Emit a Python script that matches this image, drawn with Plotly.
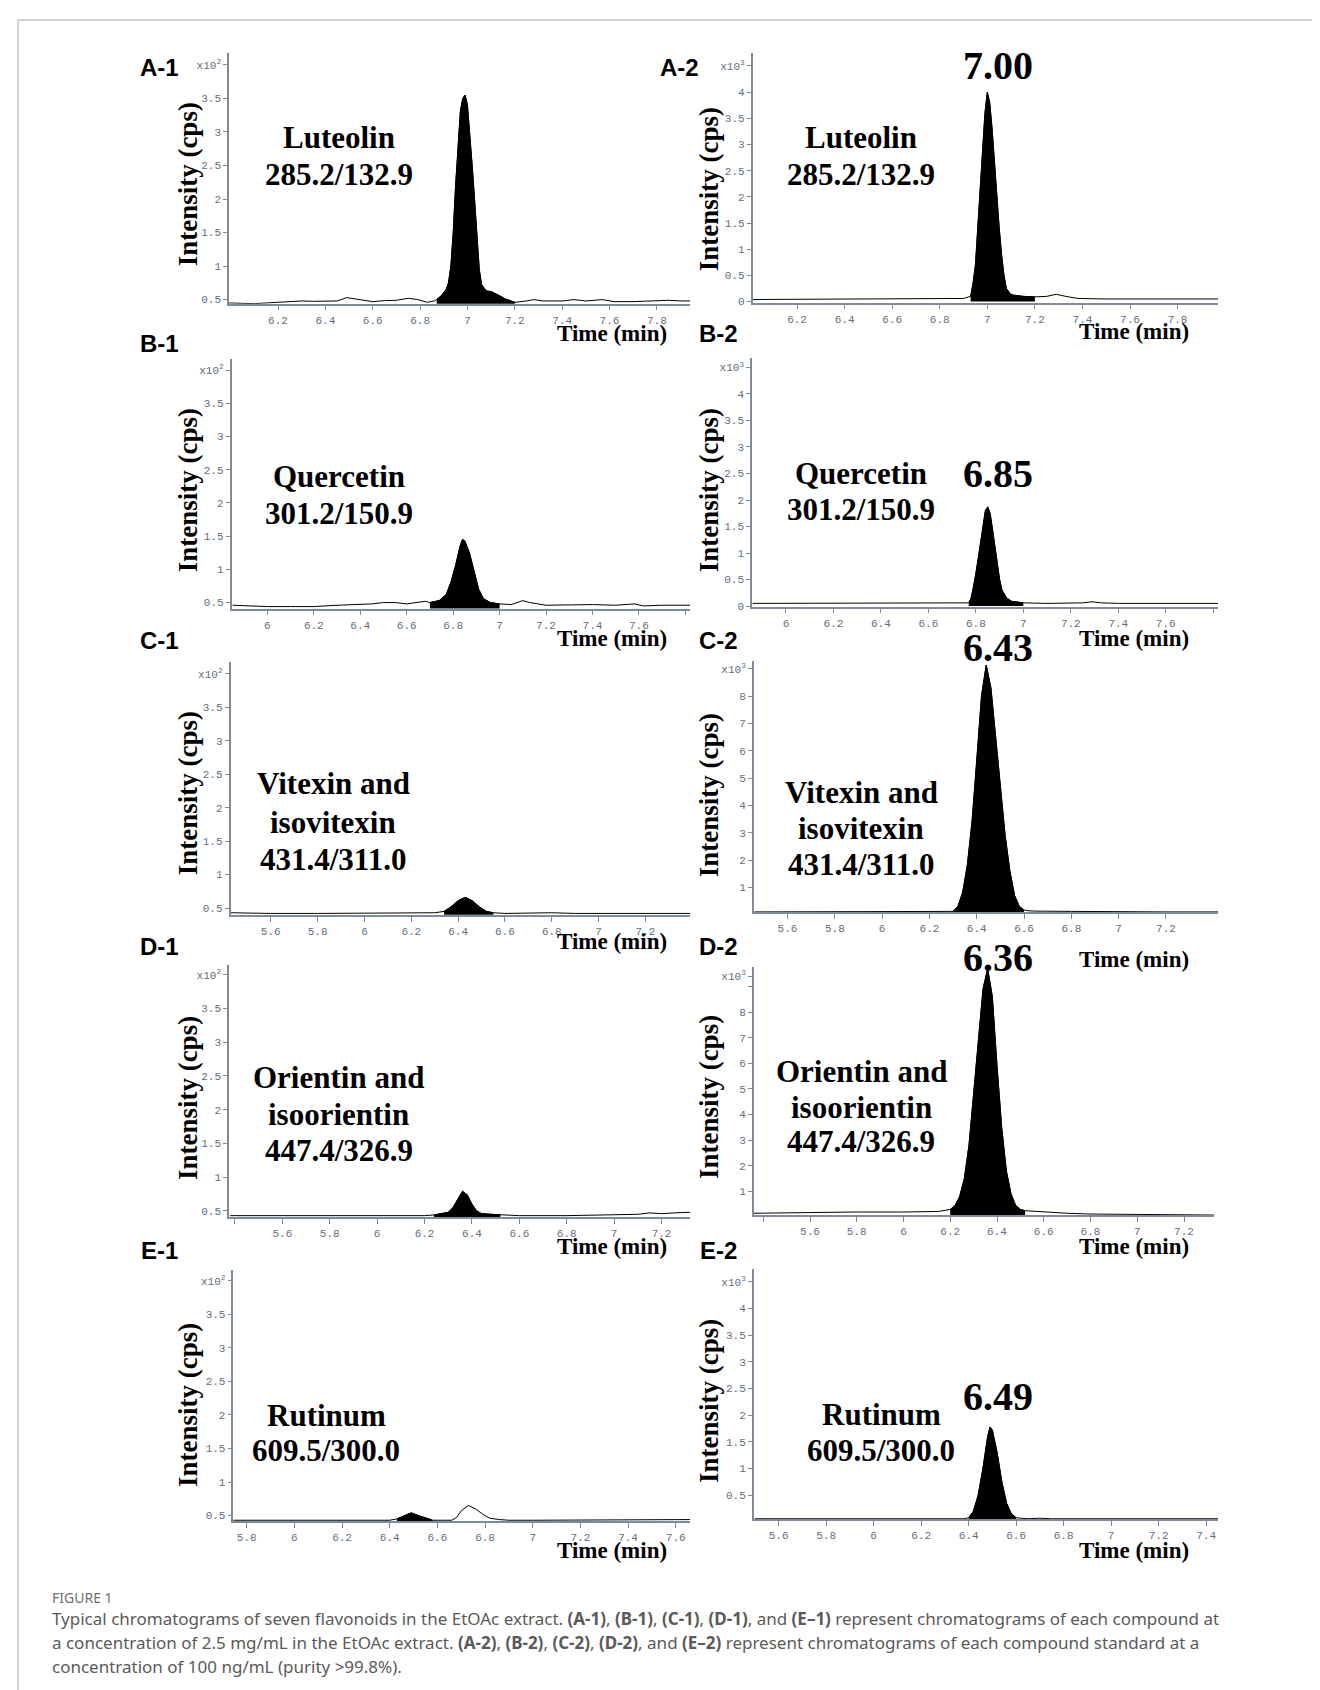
import plotly.graph_objects as go

W, H = 1320, 1690

# ---------------- data (time in min, intensity in axis units) ----------------
a1_time = [5.99, 6.05, 6.1, 6.15, 6.2, 6.25, 6.3, 6.35, 6.4, 6.45, 6.49, 6.53, 6.57, 6.6, 6.65, 6.7, 6.75, 6.79,
           6.83, 6.86, 6.87, 6.89, 6.91, 6.92, 6.93, 6.94, 6.95, 6.96, 6.97, 6.98, 6.99, 7.0, 7.01, 7.02, 7.03,
           7.04, 7.05, 7.06, 7.08, 7.1, 7.12, 7.14, 7.16, 7.18, 7.2, 7.25, 7.28, 7.32, 7.36, 7.4, 7.45, 7.5,
           7.57, 7.62, 7.7, 7.75, 7.8, 7.85, 7.9, 7.94]
a1_int = [0.45, 0.445, 0.44, 0.45, 0.46, 0.475, 0.48, 0.475, 0.48, 0.48, 0.53, 0.51, 0.48, 0.47, 0.485, 0.49, 0.52, 0.5,
          0.46, 0.48, 0.5, 0.56, 0.65, 0.75, 1.0, 1.5, 2.2, 2.8, 3.3, 3.5, 3.55, 3.4, 3.0, 2.5, 2.0,
          1.4, 0.95, 0.72, 0.63, 0.62, 0.59, 0.55, 0.51, 0.48, 0.46, 0.48, 0.5, 0.48, 0.48, 0.48, 0.5, 0.48,
          0.5, 0.47, 0.47, 0.48, 0.48, 0.49, 0.48, 0.48]

a2_time = [6.01, 6.2, 6.4, 6.6, 6.8, 6.9, 6.93, 6.94, 6.95, 6.96, 6.97, 6.98, 6.99, 7.0, 7.01, 7.02, 7.03, 7.04, 7.05,
           7.06, 7.07, 7.08, 7.1, 7.15, 7.2, 7.25, 7.29, 7.33, 7.38, 7.5, 7.7, 7.97]
a2_int = [0.04, 0.045, 0.05, 0.05, 0.05, 0.06, 0.1, 0.35, 0.7, 1.4, 2.1, 2.9, 3.6, 4.0, 3.8, 3.3, 2.6, 2.0, 1.4,
          0.9, 0.5, 0.25, 0.13, 0.1, 0.09, 0.1, 0.14, 0.1, 0.06, 0.05, 0.05, 0.05]

b1_time = [5.85, 5.9, 6.0, 6.1, 6.2, 6.3, 6.4, 6.45, 6.5, 6.55, 6.6, 6.65, 6.68, 6.7, 6.74, 6.77, 6.79, 6.81, 6.83,
           6.84, 6.85, 6.87, 6.89, 6.91, 6.93, 6.96, 7.0, 7.05, 7.1, 7.13, 7.2, 7.3, 7.4, 7.5, 7.58, 7.62, 7.7, 7.82]
b1_int = [0.46, 0.45, 0.44, 0.44, 0.44, 0.46, 0.47, 0.48, 0.5, 0.5, 0.48, 0.5, 0.52, 0.5, 0.53, 0.62, 0.8, 1.05, 1.35,
          1.45, 1.43, 1.25, 0.95, 0.7, 0.56, 0.5, 0.48, 0.47, 0.53, 0.5, 0.46, 0.47, 0.47, 0.46, 0.48, 0.45, 0.46, 0.46]

b2_time = [5.86, 6.0, 6.2, 6.4, 6.6, 6.75, 6.77, 6.78, 6.79, 6.8, 6.81, 6.82, 6.83, 6.84, 6.85, 6.86, 6.87, 6.88,
           6.89, 6.9, 6.91, 6.93, 6.95, 6.98, 7.0, 7.1, 7.25, 7.29, 7.33, 7.4, 7.6, 7.82]
b2_int = [0.05, 0.05, 0.05, 0.055, 0.05, 0.05, 0.06, 0.15, 0.35, 0.6, 0.9, 1.2, 1.55, 1.8, 1.87, 1.75, 1.45, 1.1,
          0.8, 0.5, 0.3, 0.15, 0.09, 0.07, 0.06, 0.05, 0.06, 0.08, 0.06, 0.05, 0.05, 0.05]

c1_time = [5.43, 5.6, 5.8, 6.0, 6.2, 6.3, 6.34, 6.37, 6.4, 6.43, 6.46, 6.49, 6.52, 6.55, 6.6, 6.7, 6.8, 6.9, 7.0,
           7.1, 7.2, 7.39]
c1_int = [0.43, 0.42, 0.42, 0.42, 0.43, 0.43, 0.45, 0.52, 0.61, 0.66, 0.61, 0.52, 0.45, 0.43, 0.42, 0.43, 0.43,
          0.42, 0.42, 0.43, 0.42, 0.42]

c2_time = [5.46, 5.6, 5.8, 6.0, 6.2, 6.28, 6.3, 6.32, 6.34, 6.36, 6.38, 6.4, 6.42, 6.44, 6.46, 6.48, 6.5, 6.52,
           6.54, 6.56, 6.58, 6.6, 6.62, 6.65, 6.8, 7.0, 7.2, 7.42]
c2_int = [0.1, 0.1, 0.1, 0.1, 0.1, 0.11, 0.12, 0.3, 0.8, 1.8, 3.4, 5.6, 8.0, 9.14, 8.3, 6.5, 4.6, 2.9,
          1.6, 0.7, 0.3, 0.17, 0.14, 0.13, 0.12, 0.1, 0.1, 0.1]

d1_time = [5.38, 5.5, 5.6, 5.8, 6.0, 6.2, 6.24, 6.3, 6.32, 6.34, 6.36, 6.38, 6.4, 6.42, 6.44, 6.48, 6.52, 6.6,
           6.8, 7.0, 7.1, 7.15, 7.2, 7.25, 7.32]
d1_int = [0.43, 0.43, 0.42, 0.42, 0.43, 0.43, 0.44, 0.48, 0.55, 0.68, 0.79, 0.74, 0.6, 0.5, 0.46, 0.45, 0.44, 0.43,
          0.43, 0.44, 0.45, 0.47, 0.46, 0.47, 0.48]

d2_time = [5.36, 5.6, 5.8, 6.0, 6.1, 6.15, 6.2, 6.22, 6.24, 6.26, 6.28, 6.3, 6.32, 6.34, 6.36, 6.38, 6.4, 6.42,
           6.44, 6.46, 6.48, 6.5, 6.52, 6.6, 6.7, 6.8, 7.0, 7.33]
d2_int = [0.15, 0.18, 0.2, 0.2, 0.2, 0.22, 0.3, 0.45, 0.8, 1.5, 2.8, 4.9, 7.0, 8.9, 9.7, 8.6, 5.9, 3.5,
          1.8, 0.9, 0.45, 0.3, 0.25, 0.2, 0.15, 0.12, 0.1, 0.08]

e1_time = [5.74, 5.8, 6.0, 6.2, 6.4, 6.43, 6.46, 6.49, 6.52, 6.55, 6.58, 6.62, 6.66, 6.68, 6.7, 6.73, 6.76, 6.79,
           6.82, 6.86, 6.9, 7.0, 7.1, 7.2, 7.3, 7.5, 7.6, 7.66]
e1_int = [0.43, 0.43, 0.43, 0.43, 0.43, 0.45, 0.5, 0.54, 0.5, 0.46, 0.43, 0.43, 0.43, 0.47, 0.57, 0.65, 0.6, 0.52,
          0.46, 0.44, 0.43, 0.43, 0.43, 0.44, 0.43, 0.43, 0.44, 0.44]

e2_time = [5.5, 5.8, 6.0, 6.2, 6.38, 6.4, 6.42, 6.44, 6.46, 6.48, 6.49, 6.5, 6.52, 6.54, 6.56, 6.58, 6.6, 6.65,
           6.7, 6.75, 7.0, 7.45]
e2_int = [0.06, 0.06, 0.06, 0.06, 0.06, 0.08, 0.2, 0.5, 1.0, 1.6, 1.78, 1.72, 1.3, 0.75, 0.35, 0.15, 0.08, 0.06,
          0.07, 0.06, 0.06, 0.06]

# integration (filled) windows, min
fill_windows = {"A-1": (6.87, 7.2), "A-2": (6.93, 7.2), "B-1": (6.69, 7.0), "B-2": (6.77, 7.0),
                "C-1": (6.33, 6.55), "C-2": (6.3, 6.6), "D-1": (6.24, 6.52), "D-2": (6.2, 6.52),
                "E-1": (6.43, 6.58), "E-2": (6.4, 6.6)}

# tick labels
ticks_x_A = [6.2, 6.4, 6.6, 6.8, 7.0, 7.2, 7.4, 7.6, 7.8]
ticks_x_A_text = ["6.2", "6.4", "6.6", "6.8", "7", "7.2", "7.4", "7.6", "7.8"]
ticks_x_B = [6.0, 6.2, 6.4, 6.6, 6.8, 7.0, 7.2, 7.4, 7.6]
ticks_x_B_text = ["6", "6.2", "6.4", "6.6", "6.8", "7", "7.2", "7.4", "7.6"]
ticks_x_B_minor = [7.8]
ticks_x_C = [5.6, 5.8, 6.0, 6.2, 6.4, 6.6, 6.8, 7.0, 7.2]
ticks_x_C_text = ["5.6", "5.8", "6", "6.2", "6.4", "6.6", "6.8", "7", "7.2"]
ticks_x_D_minor = [5.4]
ticks_x_E1 = [5.8, 6.0, 6.2, 6.4, 6.6, 6.8, 7.0, 7.2, 7.4, 7.6]
ticks_x_E1_text = ["5.8", "6", "6.2", "6.4", "6.6", "6.8", "7", "7.2", "7.4", "7.6"]
ticks_x_E2 = [5.6, 5.8, 6.0, 6.2, 6.4, 6.6, 6.8, 7.0, 7.2, 7.4]
ticks_x_E2_text = ["5.6", "5.8", "6", "6.2", "6.4", "6.6", "6.8", "7", "7.2", "7.4"]

ticks_y_e2 = [0.5, 1, 1.5, 2, 2.5, 3, 3.5, 4]
ticks_y_e2_text = ["0.5", "1", "1.5", "2", "2.5", "3", "3.5", "x10<sup>2</sup>"]
ticks_y_e3 = [0, 0.5, 1, 1.5, 2, 2.5, 3, 3.5, 4, 4.5]
ticks_y_e3_text = ["0", "0.5", "1", "1.5", "2", "2.5", "3", "3.5", "4", "x10<sup>3</sup>"]
ticks_y_e3b = [0.5, 1, 1.5, 2, 2.5, 3, 3.5, 4, 4.5]
ticks_y_e3b_text = ["0.5", "1", "1.5", "2", "2.5", "3", "3.5", "4", "x10<sup>3</sup>"]
ticks_y_c2 = [1, 2, 3, 4, 5, 6, 7, 8, 9]
ticks_y_c2_text = ["1", "2", "3", "4", "5", "6", "7", "8", "x10<sup>3</sup>"]
ticks_y_d2 = [1, 2, 3, 4, 5, 6, 7, 8, 9.4]
ticks_y_d2_text = ["1", "2", "3", "4", "5", "6", "7", "8", "x10<sup>3</sup>"]
ticks_y_d2_minor = [9]

compound_labels = {
    "A-1": ["Luteolin", "285.2/132.9"], "A-2": ["Luteolin", "285.2/132.9"],
    "B-1": ["Quercetin", "301.2/150.9"], "B-2": ["Quercetin", "301.2/150.9"],
    "C-1": ["Vitexin and", "isovitexin", "431.4/311.0"], "C-2": ["Vitexin and", "isovitexin", "431.4/311.0"],
    "D-1": ["Orientin and", "isoorientin", "447.4/326.9"], "D-2": ["Orientin and", "isoorientin", "447.4/326.9"],
    "E-1": ["Rutinum", "609.5/300.0"], "E-2": ["Rutinum", "609.5/300.0"],
}
retention_labels = {"A-2": "7.00", "B-2": "6.85", "C-2": "6.43", "D-2": "6.36", "E-2": "6.49"}

# ---------------- layout geometry (pixels) ----------------
panels = [
    dict(key="A-1", t=a1_time, i=a1_int, box=(221, 682, 45, 296.7), xr=[5.993, 7.94], yr=[0.44, 4.18],
         xt=(ticks_x_A, ticks_x_A_text), yt=(ticks_y_e2, ticks_y_e2_text), xm=None, ym=None,
         lab=(151, 60), ytitle=(180, 177), ttl=(604, 327), comp=(331, [130, 167]), rt=None),
    dict(key="A-2", t=a2_time, i=a2_int, box=(744.6, 1210, 45, 295.7), xr=[6.013, 7.97], yr=[-0.02, 4.75],
         xt=(ticks_x_A, ticks_x_A_text), yt=(ticks_y_e3, ticks_y_e3_text), xm=None, ym=None,
         lab=(671, 60), ytitle=(701, 182), ttl=(1126, 325), comp=(853, [130, 167]), rt=(990, 58)),
    dict(key="B-1", t=b1_time, i=b1_int, box=(223.6, 682, 352.7, 602.7), xr=[5.846, 7.82], yr=[0.41, 4.16],
         xt=(ticks_x_B, ticks_x_B_text), yt=(ticks_y_e2, ticks_y_e2_text), xm=ticks_x_B_minor, ym=None,
         lab=(151, 336.7), ytitle=(180, 484), ttl=(604, 633), comp=(331, [470, 507]), rt=None),
    dict(key="B-2", t=b2_time, i=b2_int, box=(744, 1210, 351.7, 600.7), xr=[5.857, 7.82], yr=[-0.01, 4.67],
         xt=(ticks_x_B, ticks_x_B_text), yt=(ticks_y_e3, ticks_y_e3_text), xm=ticks_x_B_minor, ym=None,
         lab=(710, 327), ytitle=(701, 484), ttl=(1126, 633), comp=(853, [467, 503]), rt=(990, 467)),
    dict(key="C-1", t=c1_time, i=c1_int, box=(222.5, 682, 656.7, 910), xr=[5.428, 7.39], yr=[0.40, 4.17],
         xt=(ticks_x_C, ticks_x_C_text), yt=(ticks_y_e2, ticks_y_e2_text), xm=None, ym=None,
         lab=(151, 635), ytitle=(180, 788), ttl=(604, 937), comp=(325, [778, 817, 855]), rt=None),
    dict(key="C-2", t=c2_time, i=c2_int, box=(745.7, 1210, 655, 907.7), xr=[5.457, 7.42], yr=[0.08, 9.3],
         xt=(ticks_x_C, ticks_x_C_text), yt=(ticks_y_c2, ticks_y_c2_text), xm=None, ym=None,
         lab=(710, 635), ytitle=(701, 790), ttl=(1126, 955), comp=(853, [787, 823, 860]), rt=(990, 642)),
    dict(key="D-1", t=d1_time, i=d1_int, box=(221, 682, 960, 1213.3), xr=[5.375, 7.32], yr=[0.41, 4.15],
         xt=(ticks_x_C, ticks_x_C_text), yt=(ticks_y_e2, ticks_y_e2_text), xm=ticks_x_D_minor, ym=None,
         lab=(151, 941.7), ytitle=(180, 1094), ttl=(604, 1243), comp=(331, [1073, 1110, 1147]), rt=None),
    dict(key="D-2", t=d2_time, i=d2_int, box=(745.7, 1206.4, 962.7, 1211.7), xr=[5.359, 7.33], yr=[0.067, 9.75],
         xt=(ticks_x_C, ticks_x_C_text), yt=(ticks_y_d2, ticks_y_d2_text), xm=ticks_x_D_minor,
         ym=ticks_y_d2_minor,
         lab=(710, 941.7), ytitle=(701, 1093), ttl=(1126, 1243), comp=(853, [1067, 1103, 1138]), rt=(990, 953)),
    dict(key="E-1", t=e1_time, i=e1_int, box=(225.4, 682, 1266.7, 1518.3), xr=[5.744, 7.66], yr=[0.42, 4.16],
         xt=(ticks_x_E1, ticks_x_E1_text), yt=(ticks_y_e2, ticks_y_e2_text), xm=None, ym=None,
         lab=(151, 1246.7), ytitle=(180, 1402), ttl=(604, 1548), comp=(318, [1413, 1448]), rt=None),
    dict(key="E-2", t=e2_time, i=e2_int, box=(745.7, 1210, 1265, 1516.7), xr=[5.495, 7.45], yr=[0.05, 4.75],
         xt=(ticks_x_E2, ticks_x_E2_text), yt=(ticks_y_e3b, ticks_y_e3b_text), xm=None, ym=None,
         lab=(710, 1246.7), ytitle=(701, 1398), ttl=(1126, 1548), comp=(873, [1412, 1448]), rt=(990, 1393)),
]


def px(x):
    return x / W


def py(y):
    return 1 - y / H


AXIS_COLOR = "#7f8b97"
TICK_FONT = dict(family="Liberation Mono, DejaVu Sans Mono, monospace", size=11, color="#5f6e7e")
SERIF = "Liberation Serif, Times New Roman, serif"

fig = go.Figure()
annotations = []
layout = {}

for n, p in enumerate(panels, start=1):
    xa = "x" if n == 1 else f"x{n}"
    ya = "y" if n == 1 else f"y{n}"
    x0, x1, ytop, ybot = p["box"]
    # full trace
    fig.add_trace(go.Scatter(x=p["t"], y=p["i"], mode="lines", line=dict(color="black", width=1),
                             xaxis=xa, yaxis=ya, showlegend=False, hoverinfo="skip"))
    # filled integration area
    lo, hi = fill_windows[p["key"]]
    ft = [t for t in p["t"] if lo <= t <= hi]
    fi = [v for t, v in zip(p["t"], p["i"]) if lo <= t <= hi]
    fig.add_trace(go.Scatter(x=ft, y=fi, mode="lines", fill="tozeroy", fillcolor="black",
                             line=dict(color="black", width=1), xaxis=xa, yaxis=ya,
                             showlegend=False, hoverinfo="skip"))
    xkey = "xaxis" if n == 1 else f"xaxis{n}"
    ykey = "yaxis" if n == 1 else f"yaxis{n}"
    xax = dict(domain=[px(x0), px(x1)], range=p["xr"], anchor=ya, showline=True,
               linecolor=AXIS_COLOR, linewidth=1.5, ticks="outside", ticklen=5, tickwidth=1,
               tickcolor=AXIS_COLOR, tickvals=p["xt"][0], ticktext=p["xt"][1], tickfont=TICK_FONT,
               showgrid=False, zeroline=False, fixedrange=True)
    if p["xm"]:
        xax["minor"] = dict(tickvals=p["xm"], ticks="outside", ticklen=5, tickwidth=1, tickcolor=AXIS_COLOR,
                            showgrid=False)
    yax = dict(domain=[py(ybot), py(ytop)], range=p["yr"], anchor=xa, showline=True,
               linecolor=AXIS_COLOR, linewidth=1.5, ticks="outside", ticklen=4, tickwidth=1,
               tickcolor=AXIS_COLOR, tickvals=p["yt"][0], ticktext=p["yt"][1], tickfont=TICK_FONT,
               showgrid=False, zeroline=False, fixedrange=True)
    if p["ym"]:
        yax["minor"] = dict(tickvals=p["ym"], ticks="outside", ticklen=4, tickwidth=1, tickcolor=AXIS_COLOR,
                            showgrid=False)
    layout[xkey] = xax
    layout[ykey] = yax

    # panel letter
    annotations.append(dict(x=px(p["lab"][0]), y=py(p["lab"][1]), xref="paper", yref="paper",
                            text=f"<b>{p['key']}</b>", showarrow=False, xanchor="center", yanchor="middle",
                            font=dict(family="Liberation Sans, Arial, sans-serif", size=24, color="black")))
    # y title
    annotations.append(dict(x=px(p["ytitle"][0]), y=py(p["ytitle"][1]), xref="paper", yref="paper",
                            text="<b>Intensity (cps)</b>", showarrow=False, textangle=-90,
                            xanchor="center", yanchor="middle",
                            font=dict(family=SERIF, size=27, color="black")))
    # x title
    annotations.append(dict(x=px(p["ttl"][0]), y=py(p["ttl"][1]), xref="paper", yref="paper",
                            text="<b>Time (min)</b>", showarrow=False, xanchor="center", yanchor="middle",
                            font=dict(family=SERIF, size=23, color="black")))
    # compound text
    cx, cys = p["comp"]
    for line, cy in zip(compound_labels[p["key"]], cys):
        annotations.append(dict(x=px(cx), y=py(cy), xref="paper", yref="paper", text=f"<b>{line}</b>",
                                showarrow=False, xanchor="center", yanchor="middle",
                                font=dict(family=SERIF, size=31, color="black")))
    # retention time
    if p["rt"] is not None:
        annotations.append(dict(x=px(p["rt"][0]), y=py(p["rt"][1]), xref="paper", yref="paper",
                                text=f"<b>{retention_labels[p['key']]}</b>", showarrow=False,
                                xanchor="center", yanchor="middle",
                                font=dict(family=SERIF, size=40, color="black")))

# caption
cap_font = dict(family="Noto Sans, Open Sans, sans-serif", size=17, color="#5a5a5a")
caption_lines = [
    "Typical chromatograms of seven flavonoids in the EtOAc extract. <b>(A-1)</b>, <b>(B-1)</b>, <b>(C-1)</b>, "
    "<b>(D-1)</b>, and <b>(E–1)</b> represent chromatograms of each compound at",
    "a concentration of 2.5 mg/mL in the EtOAc extract. <b>(A-2)</b>, <b>(B-2)</b>, <b>(C-2)</b>, <b>(D-2)</b>, "
    "and <b>(E–2)</b> represent chromatograms of each compound standard at a",
    "concentration of 100 ng/mL (purity &gt;99.8%).",
]
annotations.append(dict(x=px(42), y=py(1595), xref="paper", yref="paper", text="FIGURE 1", showarrow=False,
                        xanchor="left", yanchor="middle",
                        font=dict(family="Noto Sans, Open Sans, sans-serif", size=14, color="#707070")))
for line, yy in zip(caption_lines, [1616, 1640, 1664]):
    annotations.append(dict(x=px(42), y=py(yy), xref="paper", yref="paper", text=line, showarrow=False,
                            xanchor="left", yanchor="middle", font=cap_font))

shapes = [
    dict(type="line", xref="paper", yref="paper", x0=px(10), x1=1, y0=py(12), y1=py(12),
         line=dict(color="#d4d4d4", width=2)),
    dict(type="line", xref="paper", yref="paper", x0=px(10), x1=px(10), y0=py(12), y1=0,
         line=dict(color="#d4d4d4", width=2)),
]

fig.update_layout(width=W, height=H, margin=dict(l=0, r=0, t=0, b=0), paper_bgcolor="white",
                  plot_bgcolor="white", annotations=annotations, shapes=shapes, showlegend=False, **layout)

fig.write_html("out.html")
